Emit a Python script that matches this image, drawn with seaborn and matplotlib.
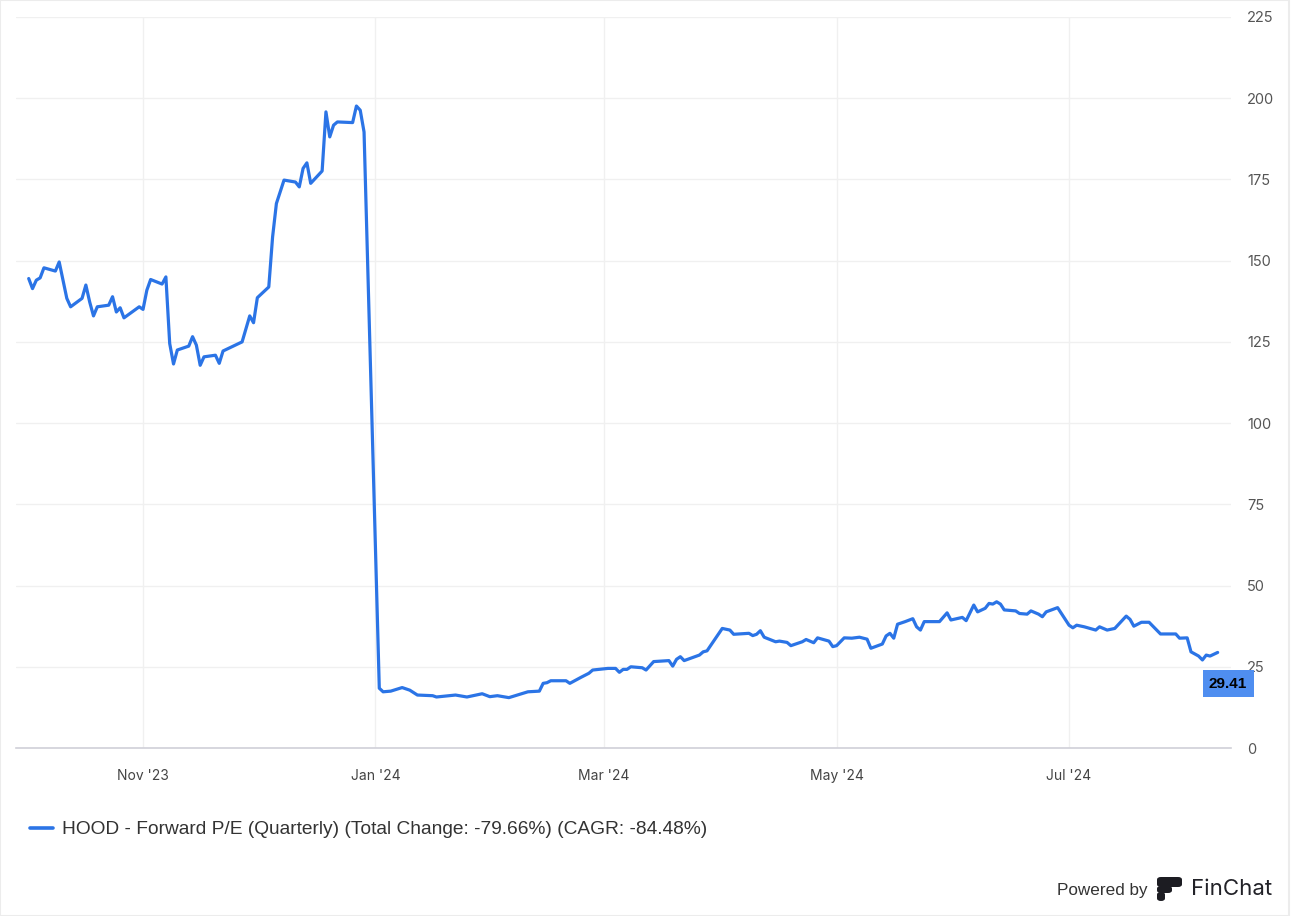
import pandas as pd
import seaborn as sns
import matplotlib.pyplot as plt
from matplotlib.patches import FancyBboxPatch, Rectangle
from matplotlib.lines import Line2D

# --- datos ---
fechas = [
    "2023-10-02", "2023-10-03", "2023-10-04", "2023-10-05", "2023-10-06", "2023-10-09",
    "2023-10-10", "2023-10-12", "2023-10-13", "2023-10-16", "2023-10-17", "2023-10-18",
    "2023-10-19", "2023-10-20", "2023-10-23", "2023-10-24", "2023-10-25", "2023-10-26",
    "2023-10-27", "2023-10-31", "2023-11-01", "2023-11-02", "2023-11-03", "2023-11-06",
    "2023-11-07", "2023-11-08", "2023-11-09", "2023-11-10", "2023-11-13", "2023-11-14",
    "2023-11-15", "2023-11-16", "2023-11-17", "2023-11-20", "2023-11-21", "2023-11-22",
    "2023-11-27", "2023-11-29", "2023-11-30", "2023-12-01", "2023-12-04", "2023-12-05",
    "2023-12-06", "2023-12-08", "2023-12-11", "2023-12-12", "2023-12-13", "2023-12-14",
    "2023-12-15", "2023-12-18", "2023-12-19", "2023-12-20", "2023-12-21", "2023-12-22",
    "2023-12-26", "2023-12-27", "2023-12-28", "2023-12-29", "2024-01-02", "2024-01-03",
    "2024-01-05", "2024-01-08", "2024-01-10", "2024-01-12", "2024-01-16", "2024-01-17",
    "2024-01-22", "2024-01-25", "2024-01-29", "2024-01-31", "2024-02-02", "2024-02-05",
    "2024-02-10", "2024-02-13", "2024-02-14", "2024-02-15", "2024-02-16", "2024-02-20",
    "2024-02-21", "2024-02-24", "2024-02-26", "2024-02-27", "2024-03-02", "2024-03-04",
    "2024-03-05", "2024-03-06", "2024-03-07", "2024-03-08", "2024-03-11", "2024-03-12",
    "2024-03-14", "2024-03-18", "2024-03-19", "2024-03-20", "2024-03-21", "2024-03-22",
    "2024-03-26", "2024-03-27", "2024-03-28", "2024-04-01", "2024-04-03", "2024-04-04",
    "2024-04-08", "2024-04-09", "2024-04-10", "2024-04-11", "2024-04-12", "2024-04-15",
    "2024-04-16", "2024-04-18", "2024-04-19", "2024-04-22", "2024-04-23", "2024-04-25",
    "2024-04-26", "2024-04-29", "2024-04-30", "2024-05-01", "2024-05-03", "2024-05-05",
    "2024-05-07", "2024-05-09", "2024-05-10", "2024-05-13", "2024-05-14", "2024-05-15",
    "2024-05-16", "2024-05-17", "2024-05-19", "2024-05-21", "2024-05-22", "2024-05-23",
    "2024-05-24", "2024-05-28", "2024-05-30", "2024-05-31", "2024-06-03", "2024-06-04",
    "2024-06-06", "2024-06-07", "2024-06-09", "2024-06-10", "2024-06-11", "2024-06-12",
    "2024-06-13", "2024-06-14", "2024-06-17", "2024-06-18", "2024-06-20", "2024-06-21",
    "2024-06-23", "2024-06-24", "2024-06-25", "2024-06-28", "2024-07-01", "2024-07-02",
    "2024-07-03", "2024-07-05", "2024-07-08", "2024-07-09", "2024-07-11", "2024-07-13",
    "2024-07-16", "2024-07-17", "2024-07-18", "2024-07-20", "2024-07-22", "2024-07-23",
    "2024-07-25", "2024-07-29", "2024-07-30", "2024-08-01", "2024-08-02", "2024-08-04",
    "2024-08-05", "2024-08-06", "2024-08-07", "2024-08-09",
]
pe = [
    144.5, 141.4, 144.0, 144.7, 147.8, 146.8, 149.6, 138.4, 135.8, 138.4, 142.5, 137.3,
    133.0, 135.8, 136.3, 138.9, 134.2, 135.5, 132.4, 135.8, 135.0, 140.9, 144.2, 142.8,
    145.0, 124.5, 118.2, 122.5, 123.7, 126.6, 124.0, 117.8, 120.4, 120.9, 118.4, 122.2,
    125.0, 133.0, 130.9, 138.6, 141.9, 157.3, 167.6, 174.8, 174.2, 172.7, 178.4, 180.1,
    173.8, 177.6, 195.8, 188.1, 191.7, 192.7, 192.5, 197.6, 196.3, 189.6, 18.4, 17.3,
    17.5, 18.6, 17.8, 16.3, 16.1, 15.7, 16.3, 15.7, 16.7, 15.8, 16.1, 15.5,
    17.3, 17.5, 19.9, 20.1, 20.7, 20.7, 19.9, 21.8, 23.0, 24.0, 24.5, 24.5,
    23.3, 24.2, 24.2, 25.0, 24.7, 24.0, 26.6, 26.9, 25.2, 27.3, 28.1, 26.9,
    28.6, 29.6, 29.9, 36.8, 36.3, 35.0, 35.3, 34.6, 35.0, 36.1, 34.1, 32.7,
    32.9, 32.5, 31.5, 32.7, 33.4, 32.4, 33.9, 32.9, 31.2, 31.5, 33.9, 33.8,
    34.1, 33.5, 30.7, 32.0, 34.5, 35.3, 33.8, 38.1, 38.9, 39.8, 37.3, 36.3,
    38.9, 38.9, 41.6, 39.4, 40.2, 39.2, 44.0, 41.9, 43.0, 44.5, 44.3, 45.0,
    44.3, 42.5, 42.2, 41.4, 41.2, 42.2, 41.2, 40.4, 41.9, 43.2, 37.8, 37.0,
    37.8, 37.3, 36.3, 37.3, 36.3, 36.8, 40.6, 39.6, 37.5, 38.7, 38.7, 37.5,
    35.1, 35.1, 33.8, 33.9, 29.6, 28.3, 27.1, 28.6, 28.3, 29.41,
]
meses_ticks = ["2023-11-01", "2024-01-01", "2024-03-01", "2024-05-01", "2024-07-01"]
etiquetas_x = ["Nov '23", "Jan '24", "Mar '24", "May '24", "Jul '24"]
ticks_y = [0, 25, 50, 75, 100, 125, 150, 175, 200, 225]
leyenda = "HOOD - Forward P/E (Quarterly) (Total Change: -79.66%) (CAGR: -84.48%)"
ultimo_valor = "29.41"

df = pd.DataFrame({"fecha": pd.to_datetime(fechas), "pe": pe})

AZUL = "#2b74e6"
W, H = 1292, 916

sns.set_style("white")
plt.rcParams["font.family"] = ["Inter", "DejaVu Sans"]

fig = plt.figure(figsize=(W / 100, H / 100), dpi=100)
ax = fig.add_axes([16 / W, 1 - 748 / H, (1231 - 16) / W, (748 - 17) / H])

sns.lineplot(data=df, x="fecha", y="pe", ax=ax, color=AZUL, linewidth=2.3,
             solid_joinstyle="round", zorder=3)

ax.set_xlim(pd.Timestamp("2023-09-28 16:00"), pd.Timestamp("2024-08-12 12:00"))
ax.set_ylim(0, 225)

ax.set_xticks(pd.to_datetime(meses_ticks))
ax.set_xticklabels(etiquetas_x)
ax.set_yticks(ticks_y)
ax.yaxis.tick_right()

ax.grid(True, color="#f0f0f0", linewidth=1)
for s in ["top", "left", "right"]:
    ax.spines[s].set_visible(False)
ax.spines["bottom"].set_color("#d0d0d8")
ax.spines["bottom"].set_linewidth(1.2)

ax.tick_params(axis="x", direction="out", length=8, width=1, color="#333333",
               pad=7, labelsize=10, labelcolor="#444444")
ax.tick_params(axis="y", length=0, pad=11.5, labelsize=10.5, labelcolor="#555555")
ax.set_xlabel("")
ax.set_ylabel("")

# etiqueta del último valor
ax.annotate(ultimo_valor, xy=(df["fecha"].iloc[-1], df["pe"].iloc[-1]),
            xytext=(7.5, -22.5), textcoords="offset points", ha="center", va="center",
            fontsize=11, fontweight="bold", color="black",
            family=["Liberation Sans", "DejaVu Sans"],
            bbox=dict(boxstyle="square,pad=0.42", fc="#4f8ef0", ec="none"),
            annotation_clip=False, zorder=5)

# leyenda
fig.add_artist(Line2D([30 / W, 53 / W], [1 - 828 / H] * 2, color=AZUL, linewidth=2.6))
fig.text(62 / W, 1 - 829 / H, leyenda, ha="left", va="center", fontsize=13.8,
         color="#333333", family=["Liberation Sans", "DejaVu Sans"])

# Powered by FinChat
fig.text(1148 / W, 1 - 890 / H, "Powered by", ha="right", va="center", fontsize=12.3,
         color="#333333", family=["Liberation Sans", "DejaVu Sans"])
for (x0, y0, x1, y1) in [(1157, 877, 1182, 887), (1157, 886, 1172, 893), (1157, 892, 1165, 901)]:
    fig.add_artist(FancyBboxPatch((x0 / W, 1 - y1 / H), (x1 - x0) / W, (y1 - y0) / H,
                                  boxstyle="round,pad=0,rounding_size=0.003",
                                  transform=fig.transFigure, fc="#1c1c22", ec="none"))
fig.text(1191 / W, 1 - 889 / H, "FinChat", ha="left", va="center", fontsize=16,
         color="#222228", family=["Inter", "DejaVu Sans"])

# borde de la imagen
fig.add_artist(Rectangle((0, 0), 1 - 3 / W, 1, transform=fig.transFigure,
                         fill=False, ec="#ececec", linewidth=1.5))

fig.savefig("out.png", dpi=100)
